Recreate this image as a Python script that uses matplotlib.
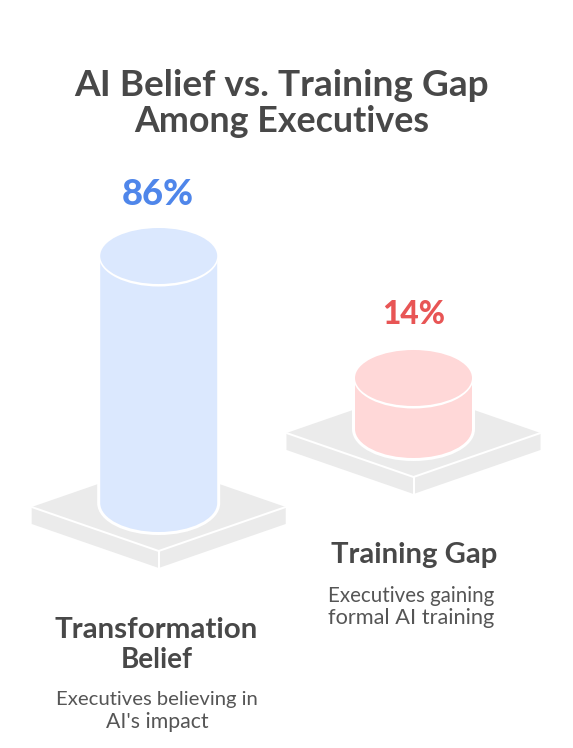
import numpy as np
import matplotlib
matplotlib.use("Agg")
import matplotlib.pyplot as plt
from matplotlib.patches import Ellipse, Polygon, PathPatch
from matplotlib.path import Path

# ---- data ----
categories = ["Transformation\nBelief", "Training Gap"]
descriptions = ["Executives believing in\nAI's impact", "Executives gaining\nformal AI training"]
values = [86, 14]
value_labels = ["86%", "14%"]
title_lines = ["AI Belief vs. Training Gap", "Among Executives"]

# ---- style ----
FILLS = ["#dbe8fe", "#ffd8d8"]
ACCENTS = ["#4f86ea", "#e85555"]
TEXT = "#484848"
DESC = "#555555"
BASE = "#ebebeb"
FONT = "Lato"
W, H = 573, 748
DPI = 100
PX = 72 / DPI

fig = plt.figure(figsize=(W / DPI, H / DPI), dpi=DPI, facecolor="white")
ax = fig.add_axes([0, 0, 1, 1])
ax.set_xlim(0, W)
ax.set_ylim(H, 0)
ax.axis("off")


def height_of(v):
    return 12.9 + 2.722 * v


def draw_base(cx, vy):
    hw, hh, depth = 127, 44, 17
    left, right = (cx - hw, vy), (cx + hw, vy)
    top, bot = (cx, vy - hh), (cx, vy + hh)
    kw = dict(facecolor=BASE, edgecolor="none", zorder=1)
    ax.add_patch(Polygon([left, bot, (cx, vy + hh + depth), (cx - hw, vy + depth)], **kw))
    ax.add_patch(Polygon([right, bot, (cx, vy + hh + depth), (cx + hw, vy + depth)], **kw))
    ax.add_patch(Polygon([left, top, right, bot], **kw))
    ax.plot([left[0], bot[0], right[0]], [left[1], bot[1], right[1]], color="white",
            lw=2 * PX, solid_joinstyle="miter", zorder=1.5)
    ax.plot([cx, cx], [bot[1], vy + hh + depth], color="white", lw=2 * PX, zorder=1.5)


def draw_cylinder(cx, y_bottom, h, fill):
    rx, ry = 58.5, 29
    y_top = y_bottom - h
    k = 0.5523
    verts = [
        (cx - rx, y_top), (cx - rx, y_bottom),
        (cx - rx, y_bottom + k * ry), (cx - k * rx, y_bottom + ry), (cx, y_bottom + ry),
        (cx + k * rx, y_bottom + ry), (cx + rx, y_bottom + k * ry), (cx + rx, y_bottom),
        (cx + rx, y_top), (cx - rx, y_top),
    ]
    codes = [Path.MOVETO, Path.LINETO, Path.CURVE4, Path.CURVE4, Path.CURVE4,
             Path.CURVE4, Path.CURVE4, Path.CURVE4, Path.LINETO, Path.CLOSEPOLY]
    path = Path(verts, codes)
    ax.add_patch(PathPatch(path, facecolor="white", edgecolor="white", linewidth=6 * PX, zorder=2))
    ax.add_patch(PathPatch(path, facecolor=fill, edgecolor="none", zorder=3))
    ax.add_patch(Ellipse((cx, y_top), 2 * rx + 3, 2 * ry + 3, facecolor="white", edgecolor="none", zorder=4))
    ax.add_patch(Ellipse((cx, y_top), 2 * rx, 2 * ry - 2, facecolor=fill, edgecolor="none", zorder=5))


renderer = fig.canvas.get_renderer()


def fit(txt, cx, cy, width, color, weight="normal", size=20):
    t = ax.text(cx, cy, txt, ha="center", va="center_baseline", color=color,
                fontfamily=FONT, fontweight=weight, fontsize=size, zorder=6)
    t.set_fontsize(size * width / t.get_window_extent(renderer).width)
    return t


centers = [158.7, 413.5]
bottoms = [503, 429]
base_y = [507, 433]

for i, v in enumerate(values):
    draw_base(centers[i], base_y[i])
    draw_cylinder(centers[i], bottoms[i], height_of(v), FILLS[i])

fit(title_lines[0], 281.5, 82.5, 415, TEXT, "bold")
fit(title_lines[1], 281.5, 118, 295, TEXT, "bold")

fit(value_labels[0], 158, 191, 72, ACCENTS[0], "black")
fit(value_labels[1], 413.5, 311.5, 63, ACCENTS[1], "black")

cat0 = categories[0].split("\n")
fit(cat0[0], 156.5, 628, 203, TEXT, "bold")
fit(cat0[1], 156.5, 657.5, 72, TEXT, "bold")
fit(categories[1], 414, 553, 166, TEXT, "bold")

d0 = descriptions[0].split("\n")
fit(d0[0], 157, 697.5, 202, DESC)
fit(d0[1], 157, 720.5, 102, DESC)
d1 = descriptions[1].split("\n")
fit(d1[0], 411, 593.5, 167, DESC)
fit(d1[1], 411, 615.5, 167, DESC)

fig.savefig("out.png", dpi=DPI, facecolor="white")
